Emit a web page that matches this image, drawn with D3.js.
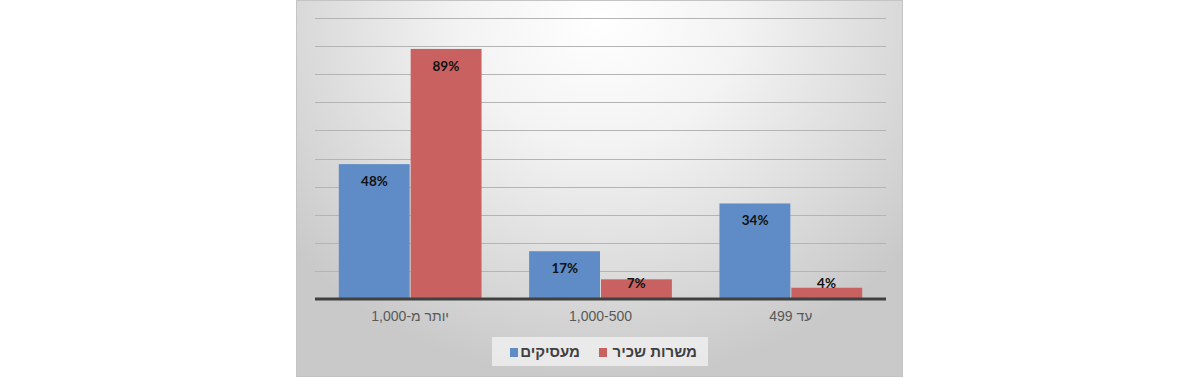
<!DOCTYPE html>
<html><head><meta charset="utf-8">
<script src="https://cdn.jsdelivr.net/npm/d3@7/dist/d3.min.js"></script>
<style>html,body{margin:0;padding:0;background:#fff;}svg{display:block;}</style>
</head><body>
<svg id="chart" width="1200" height="378"></svg>
<script>
const categories = ["יותר מ-1,000", "1,000-500", "עד 499"];
const seriesNames = ["מעסיקים", "משרות שכיר"];
const employers = [48, 17, 34];
const salaried = [89, 7, 4];
const seriesColors = ["#5f8cc6", "#c86160"];

const svg = d3.select("#chart");
const defs = svg.append("defs");
const grad = defs.append("radialGradient").attr("id","bg")
  .attr("gradientUnits","userSpaceOnUse")
  .attr("cx",600).attr("cy",20).attr("r",400)
  .attr("gradientTransform","translate(600,20) scale(1,0.9) translate(-600,-20)");
grad.append("stop").attr("offset","0").attr("stop-color","#ffffff");
grad.append("stop").attr("offset","0.35").attr("stop-color","#f3f3f3");
grad.append("stop").attr("offset","1").attr("stop-color","#c9c9c9");

svg.append("rect").attr("x",296.5).attr("y",0.5).attr("width",606).attr("height",376)
  .attr("fill","url(#bg)").attr("stroke","#c4c4c4");

const plot = {left:315, right:886, top:18, bottom:299};
const x0 = d3.scaleBand().domain(categories).range([plot.left, plot.right]).paddingInner(0.25).paddingOuter(0.125);
const x1 = d3.scaleBand().domain(seriesNames).range([0, x0.bandwidth()]);
const y = d3.scaleLinear().domain([0,100]).range([plot.bottom, plot.top]);

// gridlines
svg.append("g").selectAll("line").data(d3.range(10,101,10)).join("line")
  .attr("x1",plot.left).attr("x2",plot.right)
  .attr("y1",d=>Math.round(y(d))+0.5).attr("y2",d=>Math.round(y(d))+0.5)
  .attr("stroke","#b4b4b4").attr("stroke-width",1);

const data = categories.map((c,i)=>({cat:c, vals:[employers[i], salaried[i]]}));
const groups = svg.append("g").selectAll("g").data(data).join("g")
  .attr("transform",d=>`translate(${x0(d.cat)},0)`);
groups.selectAll("rect").data(d=>d.vals.map((v,j)=>({s:seriesNames[j], v, j}))).join("rect")
  .attr("x",d=>x1(d.s)+(d.j===1?0.5:0)).attr("width",d=>x1.bandwidth()-0.5)
  .attr("y",d=>y(d.v)).attr("height",d=>y(0)-y(d.v))
  .attr("fill",d=>seriesColors[d.j]);
groups.selectAll("text").data(d=>d.vals.map((v,j)=>({s:seriesNames[j], v, j}))).join("text")
  .attr("x",d=>x1(d.s)+x1.bandwidth()/2)
  .attr("y",d=>Math.min(y(d.v)+17, y(0)-16))
  .attr("dy","0.35em").attr("text-anchor","middle")
  .attr("font-family","Lato, 'Open Sans', sans-serif").attr("font-weight","bold")
  .attr("font-size",13.5).attr("fill","#111")
  .text(d=>d.v+"%");

// axis
const xAxis = d3.axisBottom(x0).tickSize(0).tickPadding(14);
const ax = svg.append("g").attr("transform",`translate(0,${plot.bottom})`).call(xAxis);
ax.select(".domain").remove();
ax.selectAll("text").attr("font-family","'Liberation Sans', Arial, sans-serif").attr("font-size",14).attr("fill","#595959").attr("direction","rtl").attr("text-anchor","middle")
  .attr("dy","0.6em");
svg.append("line").attr("x1",plot.left).attr("x2",plot.right).attr("y1",plot.bottom).attr("y2",plot.bottom)
  .attr("stroke","#404040").attr("stroke-width",3);

// legend
const lg = svg.append("g");
lg.append("rect").attr("x",492).attr("y",337).attr("width",216).attr("height",29).attr("fill","#efefef").attr("opacity",0.85);
const legendItems = [
  {name:seriesNames[0], color:seriesColors[0], sq:510, tx:580},
  {name:seriesNames[1], color:seriesColors[1], sq:599, tx:697}
];
legendItems.forEach(it=>{
  lg.append("rect").attr("x",it.sq).attr("y",348).attr("width",8).attr("height",9).attr("fill",it.color);
  lg.append("text").attr("x",it.tx).attr("y",352).attr("dy","0.35em").attr("text-anchor","end")
    .attr("font-family","'Liberation Sans', Arial, sans-serif").attr("font-weight","bold")
    .attr("font-size",15).attr("fill","#404040").attr("direction","ltr").text(it.name);
});
</script>
</body></html>
